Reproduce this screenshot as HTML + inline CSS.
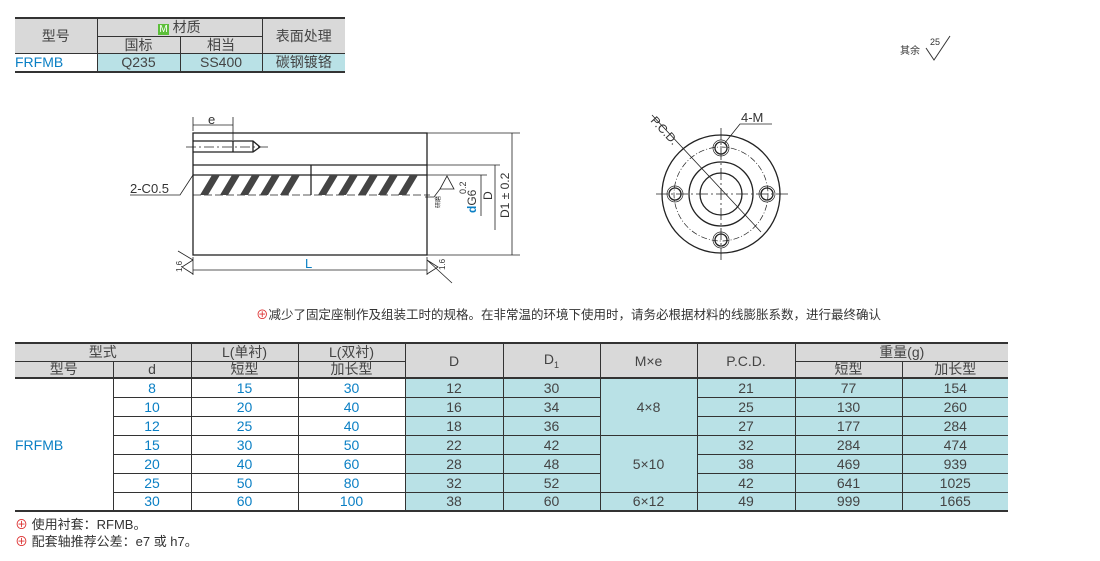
<!DOCTYPE html>
<html><head><meta charset="utf-8"><style>
body{margin:0;width:1100px;height:561px;background:#fff;position:relative;overflow:hidden;font-family:"Liberation Sans","Noto Sans CJK SC",sans-serif;color:#333}
table{border-collapse:collapse;position:absolute;table-layout:fixed}
td{padding:0;text-align:center;font-size:14px;line-height:1;border-left:1px solid #333;border-right:1px solid #333;color:#444}
td:first-child{border-left:none}
td:last-child{border-right:none}
.h{background:#d9d9d9}
.b{background:#b9e1e6}
td.c{color:#0a7fc4}
.n{position:absolute;font-size:13px}
</style></head><body>

<table style="left:15px;top:17px;width:330px;border-top:2px solid #333;border-bottom:2px solid #333">
<colgroup><col style="width:82px"><col style="width:83px"><col style="width:82px"><col style="width:83px"></colgroup>
<tr style="height:18px"><td class="h" rowspan="2" style="border-bottom:1px solid #333">型号</td><td class="h" colspan="2" style="border-bottom:1px solid #333"><span style="background:#5cbf3a;color:#fff;font-size:10px;padding:0 1px">M</span> 材质</td><td class="h" rowspan="2" style="border-bottom:1px solid #333">表面处理</td></tr>
<tr style="height:17px"><td class="h" style="border-bottom:1px solid #333">国标</td><td class="h" style="border-bottom:1px solid #333">相当</td></tr>
<tr style="height:19px"><td class="c" style="text-align:left">FRFMB</td><td class="b">Q235</td><td class="b">SS400</td><td class="b">碳钢镀铬</td></tr>
</table>

<div class="n" style="left:900px;top:42px;font-size:10px">其余</div>
<svg style="position:absolute;left:0;top:0" width="1100" height="561">
<g stroke="#333" fill="none" stroke-width="1">
<path d="M926 48 L934 60 L942 48 M934 60 L950 36"/>
</g>
<text x="930" y="45" font-size="9" fill="#333" font-family="Liberation Sans">25</text>

<g stroke="#222" fill="none" stroke-width="1.3">
<rect x="193" y="133" width="234" height="122"/>
<line x1="193" y1="165" x2="427" y2="165"/>
<line x1="193" y1="175" x2="427" y2="175"/>
<line x1="311" y1="165" x2="311" y2="195"/>
<path d="M193 141 H233 V152 H193 M233 141 L253 141 L260 147 L253 152 H233 M253 141 V152"/>
</g>
<g stroke="#222" stroke-width="0.8" fill="none">
<line x1="186" y1="147" x2="268" y2="147" stroke-dasharray="10 3 2 3"/>
<line x1="193" y1="195" x2="430" y2="195" stroke-dasharray="8 3"/>
<path d="M193 117 V131 M233 117 V140 M193 125 H233"/>
<path d="M130 195 H180 L193 175"/>
<path d="M427 133 H520 M427 165 H500 M427 175 H487 M512 133 V255 M495 165 V230 M481 175 V216 M427 255 H520"/>
<path d="M193 257 V275 M427 257 V275 M193 270 H427"/>
<path d="M440 189 L447 176 L454 189 Z M440 189 L434 197 H425"/>
<path d="M193 260 L182 267 L193 274 M178 251 L193 260 M427 260 L438 267 L427 274 M427 260 L452 283"/>
</g>
<g fill="#444">
<path d="M200 195 L212 175 L220 175 L208 195Z M220 195 L232 175 L240 175 L228 195Z M240 195 L252 175 L260 175 L248 195Z M260 195 L272 175 L280 175 L268 195Z M280 195 L292 175 L300 175 L288 195Z M318 195 L330 175 L338 175 L326 195Z M338 195 L350 175 L358 175 L346 195Z M358 195 L370 175 L378 175 L366 195Z M378 195 L390 175 L398 175 L386 195Z M398 195 L410 175 L418 175 L406 195Z"/>
</g>
<g font-family="Liberation Sans" fill="#333">
<text x="208" y="124" font-size="13">e</text>
<text x="130" y="193" font-size="13">2-C0.5</text>
<text x="305" y="268" font-size="13" fill="#0a7fc4">L</text>
<text transform="translate(466,194) rotate(-90)" font-size="9">0.2</text>
<text transform="translate(476,213) rotate(-90)" font-size="12"><tspan fill="#0a7fc4" font-weight="bold">d</tspan>G6</text>
<text transform="translate(492,200) rotate(-90)" font-size="12">D</text>
<text transform="translate(509,218) rotate(-90)" font-size="12">D1 ± 0.2</text>
<text transform="translate(182,272) rotate(-90)" font-size="8">1.6</text>
<text transform="translate(445,270) rotate(-90)" font-size="8">1.6</text>
<text transform="translate(440,208) rotate(-90)" font-size="6">研磨</text>
</g>

<g stroke="#222" fill="none">
<circle cx="721" cy="194" r="59" stroke-width="1.3"/>
<circle cx="721" cy="194" r="47" stroke-width="0.7" stroke-dasharray="6 2 1 2"/>
<circle cx="721" cy="194" r="32" stroke-width="1.3"/>
<circle cx="721" cy="194" r="21" stroke-width="1.3"/>
<g stroke-width="1.3"><circle cx="721" cy="148" r="6"/><circle cx="721" cy="240" r="6"/><circle cx="675" cy="194" r="6"/><circle cx="767" cy="194" r="6"/></g>
<g stroke-width="0.7"><circle cx="721" cy="148" r="8"/><circle cx="721" cy="240" r="8"/><circle cx="675" cy="194" r="8"/><circle cx="767" cy="194" r="8"/></g>
<g stroke-width="0.8"><path d="M656 194 H788 M721 128 V260" stroke-dasharray="12 3 2 3"/>
<path d="M652 115 L761 232"/><path d="M724 144 L740 124 H772"/></g>
</g>
<text transform="translate(650,121) rotate(47)" font-size="12" fill="#333" font-family="Liberation Sans">P.C.D.</text>
<text x="741" y="122" font-size="13" fill="#333" font-family="Liberation Sans">4-M</text>
</svg>

<div class="n" style="left:256px;top:304px;font-size:12.5px"><span style="color:#d33">⊕</span>减少了固定座制作及组装工时的规格。在非常温的环境下使用时，请务必根据材料的线膨胀系数，进行最终确认</div>

<table style="left:15px;top:342px;width:993px;border-top:2px solid #333;border-bottom:2px solid #333">
<colgroup><col style="width:98px"><col style="width:78px"><col style="width:107px"><col style="width:107px"><col style="width:98px"><col style="width:97px"><col style="width:97px"><col style="width:98px"><col style="width:107px"><col style="width:106px"></colgroup>
<tr style="height:18px"><td class="h" colspan="2" style="border-bottom:1px solid #333">型式</td><td class="h" style="border-bottom:1px solid #333">L(单衬)</td><td class="h" style="border-bottom:1px solid #333">L(双衬)</td><td class="h" rowspan="2" style="border-bottom:2px solid #333">D</td><td class="h" rowspan="2" style="border-bottom:2px solid #333">D<sub style="font-size:9px">1</sub></td><td class="h" rowspan="2" style="border-bottom:2px solid #333">M×e</td><td class="h" rowspan="2" style="border-bottom:2px solid #333">P.C.D.</td><td class="h" colspan="2" style="border-bottom:1px solid #333">重量(g)</td></tr>
<tr style="height:17px"><td class="h" style="border-bottom:2px solid #333">型号</td><td class="h" style="border-bottom:2px solid #333">d</td><td class="h" style="border-bottom:2px solid #333">短型</td><td class="h" style="border-bottom:2px solid #333">加长型</td><td class="h" style="border-bottom:2px solid #333">短型</td><td class="h" style="border-bottom:2px solid #333">加长型</td></tr>
<tr style="height:19px;border-bottom:1px solid #333"><td rowspan="7" class="c" style="text-align:left">FRFMB</td><td class="c">8</td><td class="c">15</td><td class="c">30</td><td class="b">12</td><td class="b">30</td><td class="b" rowspan="3">4×8</td><td class="b">21</td><td class="b">77</td><td class="b">154</td></tr>
<tr style="height:19px;border-bottom:1px solid #333"><td class="c">10</td><td class="c">20</td><td class="c">40</td><td class="b">16</td><td class="b">34</td><td class="b">25</td><td class="b">130</td><td class="b">260</td></tr>
<tr style="height:19px;border-bottom:1px solid #333"><td class="c">12</td><td class="c">25</td><td class="c">40</td><td class="b">18</td><td class="b">36</td><td class="b">27</td><td class="b">177</td><td class="b">284</td></tr>
<tr style="height:19px;border-bottom:1px solid #333"><td class="c">15</td><td class="c">30</td><td class="c">50</td><td class="b">22</td><td class="b">42</td><td class="b" rowspan="3">5×10</td><td class="b">32</td><td class="b">284</td><td class="b">474</td></tr>
<tr style="height:19px;border-bottom:1px solid #333"><td class="c">20</td><td class="c">40</td><td class="c">60</td><td class="b">28</td><td class="b">48</td><td class="b">38</td><td class="b">469</td><td class="b">939</td></tr>
<tr style="height:19px;border-bottom:1px solid #333"><td class="c">25</td><td class="c">50</td><td class="c">80</td><td class="b">32</td><td class="b">52</td><td class="b">42</td><td class="b">641</td><td class="b">1025</td></tr>
<tr style="height:19px"><td class="c">30</td><td class="c">60</td><td class="c">100</td><td class="b">38</td><td class="b">60</td><td class="b">6×12</td><td class="b">49</td><td class="b">999</td><td class="b">1665</td></tr>
</table>

<div class="n" style="left:15px;top:514px"><span style="color:#d33">⊕</span> 使用衬套：RFMB。</div>
<div class="n" style="left:15px;top:531px"><span style="color:#d33">⊕</span> 配套轴推荐公差：e7 或 h7。</div>
</body></html>
